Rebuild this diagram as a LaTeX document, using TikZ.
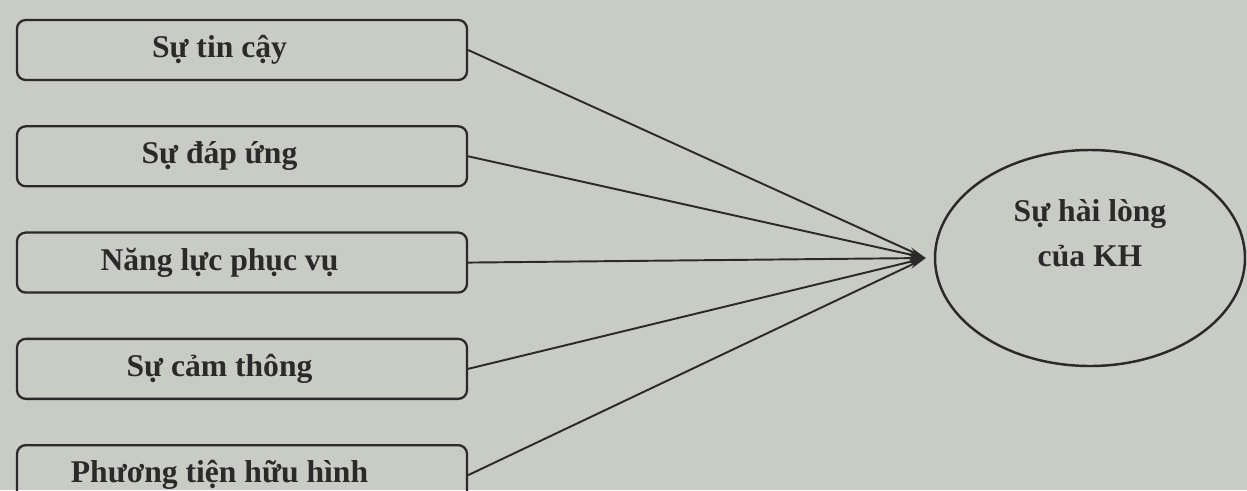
\documentclass[tikz,border=0pt]{standalone}
\usepackage{fontspec}
\setmainfont{Liberation Serif}
\usetikzlibrary{arrows.meta,positioning,shapes.geometric,calc}
\definecolor{PaperGray}{HTML}{C9CBC5}
\definecolor{InkDark}{HTML}{2A2A2A}

\begin{document}
\begin{tikzpicture}[every node/.style={font=\fontsize{18}{22}\selectfont\bfseries,text=InkDark},
    factor/.style={draw=InkDark,line width=1.3pt,rounded corners=5pt,minimum width=9cm,minimum height=1.2cm,execute at end node={\hspace{0.9cm}}},
    link/.style={-{Stealth[length=10pt,width=4pt]},InkDark,line width=1.1pt}]
        \fill[PaperGray] (0,0) rectangle (24.94,9.8);
        \useasboundingbox (0,0) rectangle (24.94,9.8);
        % cac nhan to
        \node[factor] (tincay) at (4.84,8.8) {Sự tin cậy};
        \node[factor,below=0.88cm of tincay] (dapung) {Sự đáp ứng};
        \node[factor,below=0.88cm of dapung] (nangluc) {Năng lực phục vụ};
        \node[factor,below=0.88cm of nangluc] (camthong) {Sự cảm thông};
        \node[factor,below=0.88cm of camthong] (phuongtien) {Phương tiện hữu hình};
        % bien phu thuoc
        \node[ellipse,draw=InkDark,line width=1.4pt,minimum width=6.2cm,minimum height=4.32cm] (hailong) at (21.8,4.64) {};
        \node[align=center,font=\fontsize{18}{25.6}\selectfont\bfseries] (hailongtext) at ([yshift=0.5cm]hailong.center) {Sự hài lòng\\của KH};
        \coordinate (tip) at ([xshift=-0.16cm]hailong.west);
        \draw[link] (tincay.east) -- (tip);
        \draw[link] (dapung.east) -- (tip);
        \draw[link] (nangluc.east) -- (tip);
        \draw[link] (camthong.east) -- (tip);
        \draw[link] (phuongtien.east) -- (tip);
      \end{tikzpicture}
\end{document}
